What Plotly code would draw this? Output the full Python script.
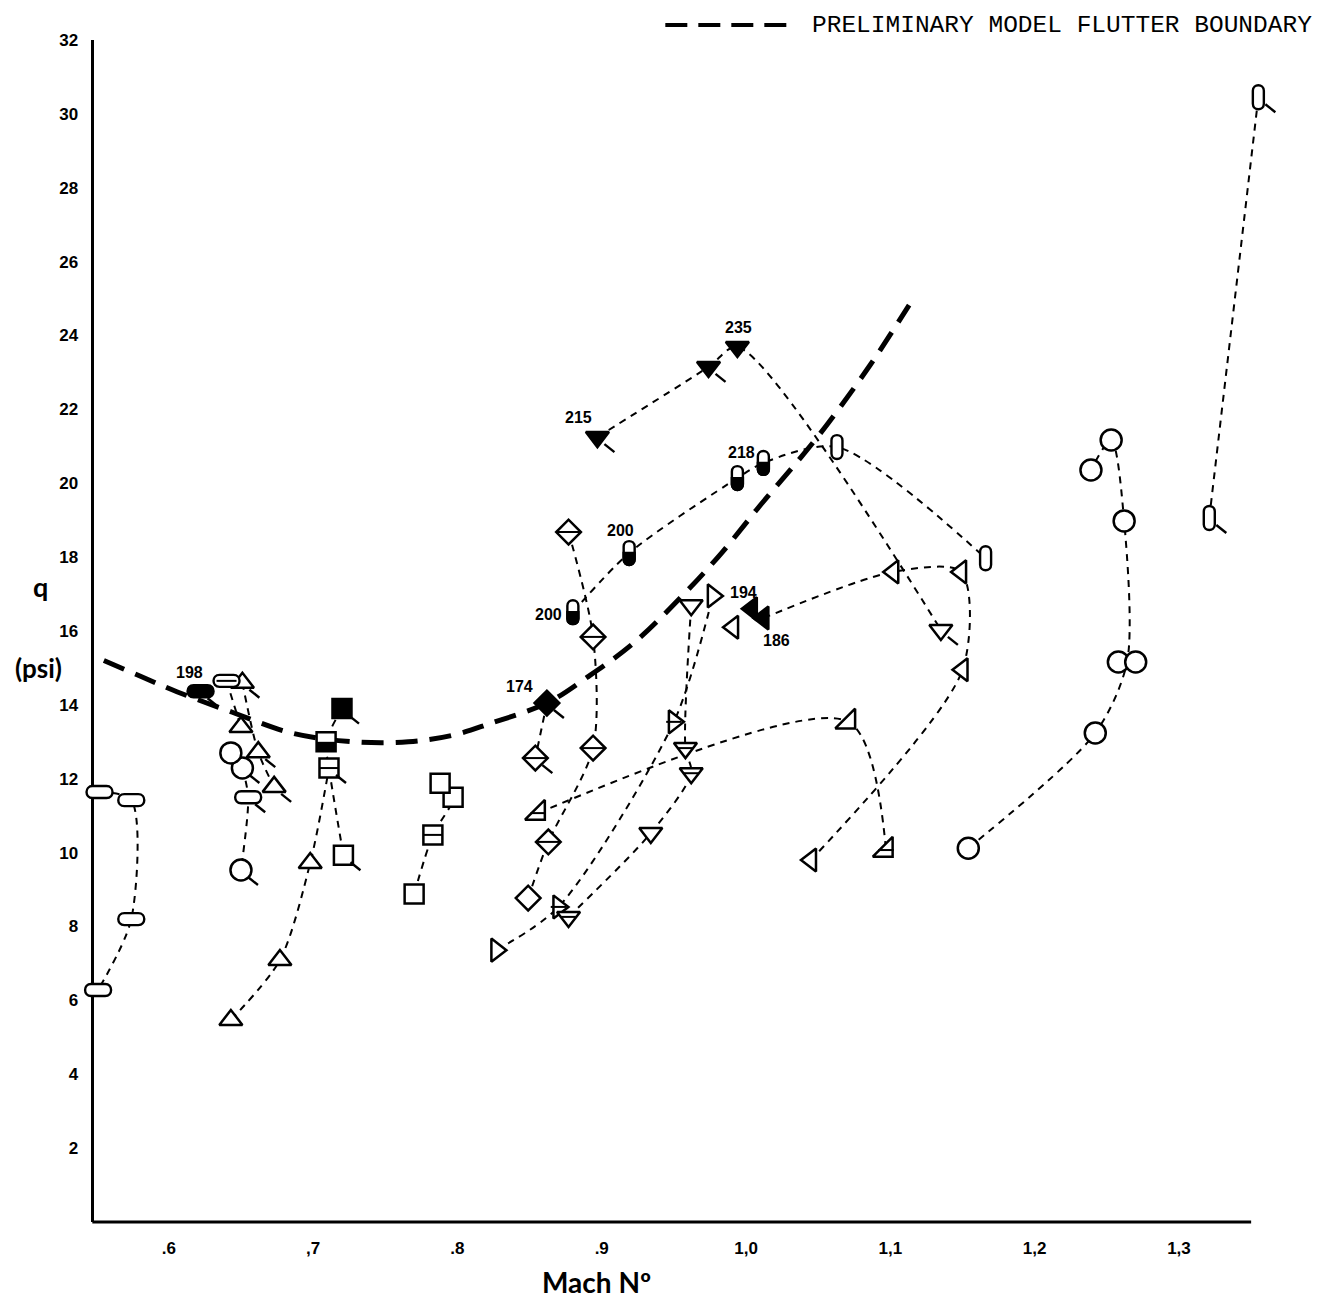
import plotly.graph_objects as go

# ---------------- data ----------------
tick_mach = [0.6, 0.7, 0.8, 0.9, 1.0, 1.1, 1.2, 1.3]
tick_mach_text = [".6", ",7", ".8", ".9", "1,0", "1,1", "1,2", "1,3"]
tick_q = [2, 4, 6, 8, 10, 12, 14, 16, 18, 20, 22, 24, 26, 28, 30, 32]
mach_axis_start = 0.547
mach_axis_end = 1.350

boundary_mach = [0.555, 0.580, 0.606, 0.644, 0.685, 0.728, 0.766, 0.797, 0.823, 0.862,
                 0.890, 0.922, 0.955, 0.983, 1.010, 1.038, 1.057, 1.086, 1.113]
boundary_q = [15.2, 14.78, 14.35, 13.8, 13.24, 13.0, 13.0, 13.18, 13.5, 14.05,
              14.75, 15.67, 16.92, 18.11, 19.41, 20.7, 21.63, 23.2, 24.82]

s1_mach = [0.552, 0.574, 0.574, 0.551]
s1_q = [11.64, 11.42, 8.20, 6.28]
s2_mach = [0.651, 0.655, 0.650]
s2_q = [12.29, 11.5, 9.53]
s2b_mach = [0.643]
s2b_q = [12.7]
s3_mach = [0.640, 0.650]
s3_q = [14.65, 13.4]
s4_mach = [0.622]
s4_q = [14.37]
s5_mach = [0.651, 0.662, 0.673]
s5_q = [14.6, 12.72, 11.78]
s6_mach = [0.643, 0.677, 0.698, 0.711]
s6_q = [5.47, 7.09, 9.72, 12.29]
s7_mach = [0.720, 0.709, 0.711, 0.721]
s7_q = [13.9, 13.0, 12.29, 9.93]
s8_mach = [0.770, 0.783, 0.797, 0.788]
s8_q = [8.88, 10.48, 11.5, 11.88]
s9_mach = [0.877, 0.894, 0.894, 0.863, 0.849]
s9_q = [18.68, 15.84, 12.83, 10.29, 8.77]
s10_mach = [0.862, 0.854]
s10_q = [14.05, 12.56]
s11_mach = [0.880, 0.919, 0.994, 1.012, 1.063, 1.166]
s11_q = [16.51, 18.11, 20.14, 20.55, 20.98, 17.97]
s12_mach = [0.897, 0.974, 0.994, 1.135]
s12_q = [21.25, 23.15, 23.69, 16.03]
s13_mach = [1.012, 1.102, 1.149, 1.150, 1.045]
s13_q = [16.35, 17.6, 17.6, 14.95, 9.8]
s13b_mach = [0.991, 1.004]
s13b_q = [16.1, 16.6]
s14_mach = [0.856, 1.071, 1.097]
s14_q = [11.07, 13.54, 10.07]
s15_mach = [0.827, 0.870, 0.950, 0.977]
s15_q = [7.36, 8.53, 13.54, 16.95]
s16_mach = [0.877, 0.934, 0.962, 0.958, 0.962]
s16_q = [8.26, 10.53, 12.15, 12.83, 16.7]
s17_mach = [1.154, 1.242, 1.264, 1.262, 1.253, 1.239]
s17_q = [10.12, 13.24, 15.16, 18.98, 21.17, 20.36]
s17b_mach = [1.258, 1.270]
s17b_q = [15.16, 15.16]
s18_mach = [1.321, 1.355]
s18_q = [19.06, 30.45]

label_text = ["198", "174", "200", "200", "218", "215", "235", "194", "186"]
label_mach = [0.614, 0.843, 0.913, 0.863, 0.997, 0.884, 0.995, 0.998, 1.021]
label_q = [14.89, 14.51, 18.71, 16.46, 20.82, 21.77, 24.23, 17.03, 15.73]

# ---------------- styles ----------------
series = [
    (s1_mach, s1_q, ["pillh"] * 4, True),
    (s2_mach, s2_q, ["circle|tail", "pillh|tail", "circle|tail"], True),
    (s2b_mach, s2b_q, ["circle"], False),
    (s3_mach, s3_q, ["pillh|stripe", "triangle-up"], True),
    (s4_mach, s4_q, ["pillh|fill|tail"], False),
    (s5_mach, s5_q, ["triangle-up|tail"] * 3, True),
    (s6_mach, s6_q, ["triangle-up"] * 3 + ["none"], True),
    (s7_mach, s7_q, ["square|fill|tail", "square|half", "square|stripe|tail", "square|tail"], True),
    (s8_mach, s8_q, ["square", "square|stripe", "square", "square"], True),
    (s9_mach, s9_q, ["diamond|stripe"] * 4 + ["diamond"], True),
    (s10_mach, s10_q, ["diamond|fill|tail", "diamond|stripe|tail"], True),
    (s11_mach, s11_q, ["pillv|half"] * 4 + ["pillv"] * 2, True),
    (s12_mach, s12_q, ["triangle-down|fill|tail", "triangle-down|fill|tail",
                       "triangle-down|fill", "triangle-down|tail"], True),
    (s13_mach, s13_q, ["triangle-left|fill"] + ["triangle-left"] * 4, True),
    (s13b_mach, s13b_q, ["triangle-left", "triangle-left|fill"], False),
    (s14_mach, s14_q, ["triangle-se|stripe", "triangle-se", "triangle-se|stripe"], True),
    (s15_mach, s15_q, ["triangle-right", "triangle-right|stripe",
                       "triangle-right|stripe", "triangle-right"], True),
    (s16_mach, s16_q, ["triangle-down|stripe", "triangle-down", "triangle-down|stripe",
                       "triangle-down|stripe", "triangle-down"], True),
    (s17_mach, s17_q, ["circle", "circle", "none", "circle", "circle", "circle"], True),
    (s17b_mach, s17b_q, ["circle", "circle"], False),
    (s18_mach, s18_q, ["pillv|tail"] * 2, True),
]

SIZE = {"circle": 21, "square": 19, "diamond": 19, "triangle-up": 20, "triangle-down": 20,
        "triangle-left": 20, "triangle-right": 20, "triangle-se": 22}
STRIPE = {"square": 13.5, "diamond": 17, "triangle-up": 10.5, "triangle-down": 10.5,
          "triangle-left": 11, "triangle-right": 11, "triangle-se": 11}

HPILL = "M -7,6 L 7,6 C 15,6 15,-6 7,-6 L -7,-6 C -15,-6 -15,6 -7,6 Z"
VPILL = "M -5.5,6.5 C -5.5,13.8 5.5,13.8 5.5,6.5 L 5.5,-6.5 C 5.5,-13.8 -5.5,-13.8 -5.5,-6.5 Z"
VPILL_LOW = "M -5.5,0 L 5.5,0 L 5.5,-6.5 C 5.5,-13.8 -5.5,-13.8 -5.5,-6.5 Z"

X_MIN, X_MAX = 0.535, 1.370

fig = go.Figure()
shapes = []

# connecting lines
for mx, qv, marks, connect in series:
    if connect and len(mx) > 1:
        fig.add_trace(go.Scatter(x=mx, y=qv, mode="lines",
                                 line=dict(color="black", width=2, dash="7px,6px",
                                           shape="spline", smoothing=0.8),
                                 hoverinfo="skip", showlegend=False))

# boundary
fig.add_trace(go.Scatter(x=boundary_mach, y=boundary_q, mode="lines",
                         line=dict(color="black", width=5, dash="22px,12px",
                                   shape="spline", smoothing=1.0),
                         name="PRELIMINARY MODEL FLUTTER BOUNDARY", showlegend=False))

mk_x, mk_y, mk_sym, mk_col, mk_size = [], [], [], [], []
st_x, st_y, st_size = [], [], []


def pshape(path, mx, q, fill):
    return dict(type="path", path=path, xref="x", yref="y", xsizemode="pixel",
                ysizemode="pixel", xanchor=mx, yanchor=q, fillcolor=fill,
                line=dict(color="black", width=2.4), layer="above")


for mx, qv, marks, connect in series:
    for m, q, code in zip(mx, qv, marks):
        parts = code.split("|")
        base = parts[0]
        if base == "none":
            continue
        filled = "fill" in parts
        if base in ("pillh", "pillv"):
            path = HPILL if base == "pillh" else VPILL
            shapes.append(pshape(path, m, q, "black" if filled else "white"))
            if "half" in parts:
                shapes.append(pshape(VPILL_LOW, m, q, "black"))
            if "stripe" in parts:
                shapes.append(dict(type="line", xref="x", yref="y", xsizemode="pixel",
                                   ysizemode="pixel", xanchor=m, yanchor=q,
                                   x0=-10, x1=10, y0=0, y1=0,
                                   line=dict(color="black", width=2), layer="above"))
        else:
            mk_x.append(m)
            mk_y.append(q)
            mk_sym.append(base)
            mk_col.append("black" if filled else "white")
            mk_size.append(SIZE[base])
            if "stripe" in parts:
                st_x.append(m)
                st_y.append(q)
                st_size.append(STRIPE[base])
            if "half" in parts:
                shapes.append(dict(type="rect", xref="x", yref="y", xsizemode="pixel",
                                   ysizemode="pixel", xanchor=m, yanchor=q,
                                   x0=-9.5, x1=9.5, y0=-9.5, y1=0, fillcolor="black",
                                   line=dict(width=0), layer="above"))
        if "tail" in parts:
            shapes.append(dict(type="line", xref="x", yref="y", xsizemode="pixel",
                               ysizemode="pixel", xanchor=m, yanchor=q,
                               x0=7, x1=17, y0=-7, y1=-15,
                               line=dict(color="black", width=2.4), layer="above"))

fig.add_trace(go.Scatter(x=mk_x, y=mk_y, mode="markers", cliponaxis=False,
                         marker=dict(symbol=mk_sym, color=mk_col, size=mk_size, opacity=1,
                                     line=dict(color="black", width=2.5)),
                         hoverinfo="skip", showlegend=False))
fig.add_trace(go.Scatter(x=st_x, y=st_y, mode="markers", cliponaxis=False,
                         marker=dict(symbol="line-ew", size=st_size, color="black", opacity=1,
                                     line=dict(color="black", width=2)),
                         hoverinfo="skip", showlegend=False))

annotations = []
for t, m, q in zip(label_text, label_mach, label_q):
    annotations.append(dict(x=m, y=q, xref="x", yref="y", text=t, showarrow=False,
                            xanchor="center", yanchor="middle",
                            font=dict(family="Liberation Sans Narrow, Arial Narrow, sans-serif",
                                      size=16, color="black", weight="bold")))

# axis titles and legend text (pixel offsets from the y axis / plot edges)
annotations += [
    dict(x=mach_axis_start, y=17.2, xref="x", yref="y", xshift=-52, text="q", showarrow=False,
         xanchor="center", yanchor="middle",
         font=dict(family="Lato, Open Sans, sans-serif", size=27, color="black", weight="bold")),
    dict(x=mach_axis_start, y=15.0, xref="x", yref="y", xshift=-54, text="(psi)", showarrow=False,
         xanchor="center", yanchor="middle",
         font=dict(family="Lato, Open Sans, sans-serif", size=26, color="black", weight="bold")),
    dict(x=0.9, y=0, xref="x", yref="paper", xshift=-5, yshift=-60,
         text="Mach Nº", showarrow=False, xanchor="center", yanchor="middle",
         font=dict(family="Lato, Open Sans, sans-serif", size=28, color="black", weight="bold")),
    dict(x=mach_axis_start, y=1, xref="x", yref="paper", xshift=718, yshift=15,
         xanchor="left", yanchor="middle",
         text="PRELIMINARY MODEL FLUTTER BOUNDARY", showarrow=False,
         font=dict(family="Liberation Mono, DejaVu Sans Mono, monospace", size=24.5, color="black")),
]

# legend dash sample
shapes.append(dict(type="line", xref="x", yref="paper", xsizemode="pixel",
                   xanchor=mach_axis_start, x0=573, x1=698,
                   y0=1.0127, y1=1.0127, line=dict(color="black", width=4, dash="22px,11px")))
# x axis baseline (ends at the drawn axis length)
shapes.append(dict(type="line", xref="x", yref="paper", x0=mach_axis_start, x1=mach_axis_end,
                   y0=0, y1=0, line=dict(color="black", width=3), layer="above"))

fig.update_layout(
    width=1318, height=1291,
    margin=dict(l=67, r=46, t=32, b=77),
    paper_bgcolor="white", plot_bgcolor="white",
    shapes=shapes, annotations=annotations,
    xaxis=dict(range=[X_MIN, X_MAX], tickvals=tick_mach, ticktext=tick_mach_text,
               showline=False, showgrid=False,
               zeroline=False, ticks="", ticklabelstandoff=14,
               tickfont=dict(family="Liberation Sans Narrow, Arial Narrow, sans-serif",
                             size=17, color="black", weight="bold")),
    yaxis=dict(range=[0, 32], tickvals=tick_q, showline=True, linewidth=2.5,
               linecolor="black", showgrid=False, zeroline=False, ticks="",
               ticklabelstandoff=10, anchor="free",
               position=(mach_axis_start - X_MIN) / (X_MAX - X_MIN),
               tickfont=dict(family="Liberation Sans Narrow, Arial Narrow, sans-serif",
                             size=17, color="black", weight="bold")),
)

fig.write_html("out.html")
